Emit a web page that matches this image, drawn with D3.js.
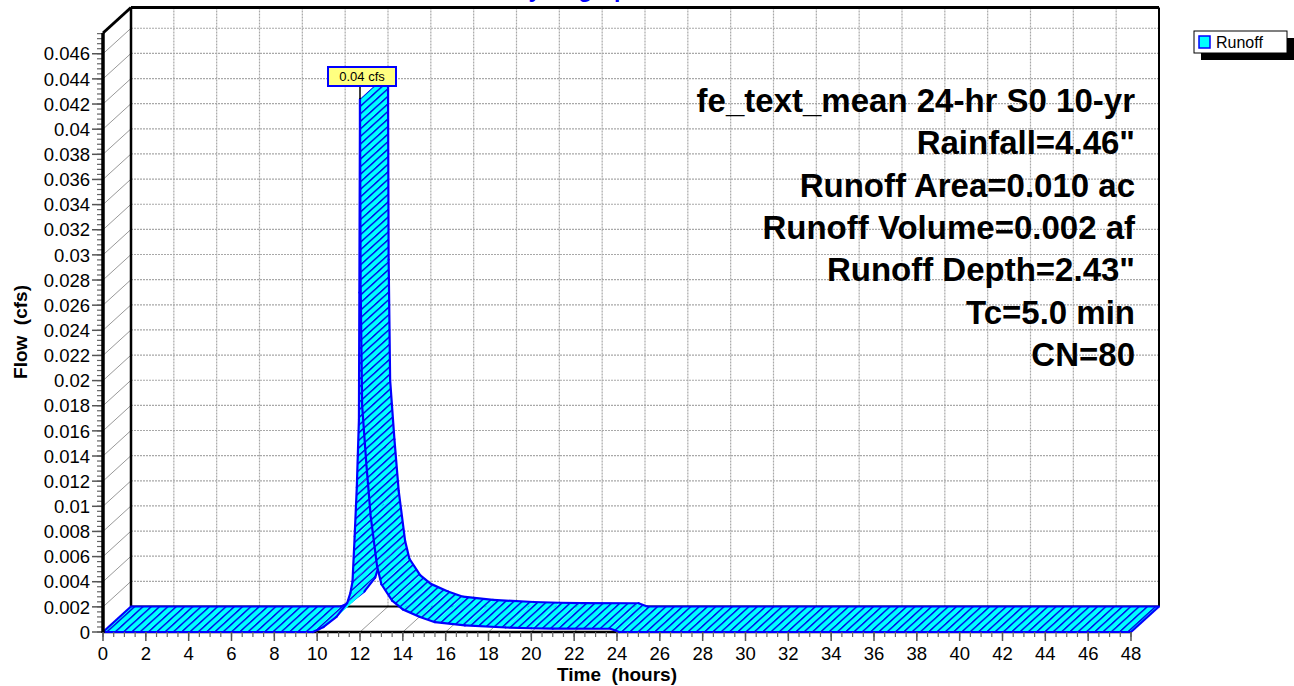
<!DOCTYPE html>
<html>
<head>
<meta charset="utf-8">
<script src="https://cdn.jsdelivr.net/npm/d3@7"></script>
<style>
  html, body { margin: 0; padding: 0; background: #ffffff; }
  svg { display: block; font-family: "Liberation Sans", Arial, sans-serif; }
</style>
</head>
<body>
<svg id="chart" width="1294" height="686"></svg>
<script>
// Runoff hydrograph (time in hours, flow in cfs)
const timeHours = [0, 9.8, 10.3, 10.9, 11.4, 11.55, 11.65, 11.75, 11.85, 11.95, 11.97, 12.0,
                   12.03, 12.1, 12.3, 12.5, 12.8, 13.0, 13.5, 14.0, 14.8, 15.5, 16.9, 18.8,
                   20.0, 21.0, 23.7, 24.1, 48];
const flowCfs   = [0, 0, 0.0004, 0.0012, 0.0023, 0.0031, 0.0040, 0.0076, 0.0115, 0.0169, 0.027, 0.0424,
                   0.0276, 0.0180, 0.0133, 0.0092, 0.0052, 0.0038, 0.0025, 0.0018, 0.0012, 0.00078, 0.00052, 0.00036,
                   0.00030, 0.00027, 0.00026, 0, 0];

const seriesName = "Runoff";
const peakLabel = "0.04 cfs";
const chartTitle = "Hydrograph";
const xAxisTitle = "Time  (hours)";
const yAxisTitle = "Flow  (cfs)";

const yTickValues = [0, 0.002, 0.004, 0.006, 0.008, 0.01, 0.012, 0.014, 0.016, 0.018, 0.02, 0.022,
                     0.024, 0.026, 0.028, 0.03, 0.032, 0.034, 0.036, 0.038, 0.04, 0.042, 0.044, 0.046];
const yTickLabels = ["0", "0.002", "0.004", "0.006", "0.008", "0.01", "0.012", "0.014", "0.016", "0.018", "0.02", "0.022",
                     "0.024", "0.026", "0.028", "0.03", "0.032", "0.034", "0.036", "0.038", "0.04", "0.042", "0.044", "0.046"];
const xTickValues = [0, 2, 4, 6, 8, 10, 12, 14, 16, 18, 20, 22, 24, 26, 28, 30, 32, 34, 36, 38, 40, 42, 44, 46, 48];
const xTickLabels = ["0", "2", "4", "6", "8", "10", "12", "14", "16", "18", "20", "22", "24", "26", "28", "30",
                     "32", "34", "36", "38", "40", "42", "44", "46", "48"];

const infoLines = [
  "fe_text_mean 24-hr S0 10-yr",
  "Rainfall=4.46\"",
  "Runoff Area=0.010 ac",
  "Runoff Volume=0.002 af",
  "Runoff Depth=2.43\"",
  "Tc=5.0 min",
  "CN=80"
];

// ---- layout ----
const xMax = 48, yMax = 0.04765;
const x = d3.scaleLinear().domain([0, xMax]).range([103, 1131]);
const y = d3.scaleLinear().domain([0, yMax]).range([632, 33]);
const DX = 28, DY = -25.5;   // depth offset of the back wall

const svg = d3.select("#chart");
const defs = svg.append("defs");

// diagonal hatch running along the depth direction
const pat = defs.append("pattern")
  .attr("id", "hatch")
  .attr("patternUnits", "userSpaceOnUse")
  .attr("width", 8.3).attr("height", 10)
  .attr("patternTransform", "skewX(" + (Math.atan(DX / DY) * 180 / Math.PI) + ")");
pat.append("rect").attr("width", 8.3).attr("height", 10).attr("fill", "#00ffff");
pat.append("line").attr("x1", 4).attr("y1", -1).attr("x2", 4).attr("y2", 11)
  .attr("stroke", "#0000e6").attr("stroke-width", 2.1);

const gridColor = "#a8a8a8";
const x0 = x(0), x1 = x(xMax), yb = y(0), yt = y(yMax);

// back wall grid
const grid = svg.append("g");
grid.selectAll(".hg").data(yTickValues.filter(v => v > 0)).join("line")
  .attr("x1", x0 + DX).attr("x2", x1 + DX)
  .attr("y1", d => y(d) + DY).attr("y2", d => y(d) + DY)
  .attr("stroke", gridColor).attr("stroke-width", 1.2).attr("stroke-dasharray", "2,1");
grid.selectAll(".vg").data(xTickValues.filter(v => v > 0 && v < xMax)).join("line")
  .attr("x1", d => x(d) + DX).attr("x2", d => x(d) + DX)
  .attr("y1", yt + DY).attr("y2", yb + DY)
  .attr("stroke", gridColor).attr("stroke-width", 1.2).attr("stroke-dasharray", "2,1");
// left wall
grid.selectAll(".wg").data(yTickValues.filter(v => v > 0)).join("line")
  .attr("x1", x0).attr("x2", x0 + DX)
  .attr("y1", d => y(d)).attr("y2", d => y(d) + DY)
  .attr("stroke", "#999").attr("stroke-width", 1);
// floor
grid.selectAll(".fg").data(xTickValues.filter(v => v > 0 && v < xMax)).join("line")
  .attr("x1", d => x(d)).attr("x2", d => x(d) + DX)
  .attr("y1", yb).attr("y2", yb + DY)
  .attr("stroke", "#999").attr("stroke-width", 1);

// frame of the box
const frame = svg.append("g").attr("stroke", "#000").attr("fill", "none");
frame.append("line").attr("x1", x0 + DX).attr("x2", x1 + DX).attr("y1", yt + DY).attr("y2", yt + DY).attr("stroke-width", 3);
frame.append("line").attr("x1", x0 + DX).attr("x2", x0 + DX).attr("y1", yt + DY).attr("y2", yb + DY).attr("stroke-width", 2.5);
frame.append("line").attr("x1", x1 + DX).attr("x2", x1 + DX).attr("y1", yt + DY).attr("y2", yb + DY).attr("stroke-width", 2);
frame.append("line").attr("x1", x0 + DX).attr("x2", x1 + DX).attr("y1", yb + DY).attr("y2", yb + DY).attr("stroke-width", 2);
frame.append("line").attr("x1", x0).attr("x2", x0 + DX).attr("y1", yt).attr("y2", yt + DY).attr("stroke-width", 3);
frame.append("line").attr("x1", x0).attr("x2", x1).attr("y1", yb).attr("y2", yb).attr("stroke-width", 2.5);

// ---- 3D ribbon ----
const pts = timeHours.map((t, i) => ({ t: t, v: flowCfs[i] }));
const front = d => [x(d.t), y(d.v)];
const back = d => [x(d.t) + DX, y(d.v) + DY];
const ribbon = svg.append("g");
for (let i = 0; i < pts.length - 1; i++) {
  const a = pts[i], b = pts[i + 1];
  const quad = [front(a), front(b), back(b), back(a)];
  ribbon.append("path")
    .attr("d", d3.line()(quad) + "Z")
    .attr("fill", "url(#hatch)").attr("stroke", "none");
  ribbon.append("path").attr("d", d3.line()([front(a), front(b)]))
    .attr("stroke", "#0000ff").attr("stroke-width", 2.2).attr("fill", "none").attr("stroke-linecap", "round");
  ribbon.append("path").attr("d", d3.line()([back(a), back(b)]))
    .attr("stroke", "#0000ff").attr("stroke-width", 2.2).attr("fill", "none").attr("stroke-linecap", "round");
}
ribbon.append("path").attr("d", d3.line()([front(pts[0]), back(pts[0])]))
  .attr("stroke", "#0000ff").attr("stroke-width", 2.2);
ribbon.append("path").attr("d", d3.line()([front(pts[pts.length - 1]), back(pts[pts.length - 1])]))
  .attr("stroke", "#0000ff").attr("stroke-width", 2.2);

// ---- axes ----
const axisG = svg.append("g");
// y axis
axisG.selectAll(".ymin").data(d3.range(0, yMax, 0.0004)).join("line")
  .attr("x1", x0 - 6).attr("x2", x0).attr("y1", d => y(d)).attr("y2", d => y(d))
  .attr("stroke", "#666").attr("stroke-width", 1.2);
axisG.selectAll(".ymaj").data(yTickValues).join("line")
  .attr("x1", x0 - 11).attr("x2", x0).attr("y1", d => y(d)).attr("y2", d => y(d))
  .attr("stroke", "#555").attr("stroke-width", 1.5);
axisG.selectAll(".ylab").data(yTickValues).join("text")
  .attr("x", x0 - 13).attr("y", d => y(d)).attr("dy", "0.36em")
  .attr("text-anchor", "end").attr("font-size", 18.5).attr("fill", "#000")
  .text((d, i) => yTickLabels[i]);
axisG.append("line").attr("x1", x0).attr("x2", x0).attr("y1", yt).attr("y2", yb + 1)
  .attr("stroke", "#000").attr("stroke-width", 3.5);
// x axis
axisG.selectAll(".xmin").data(d3.range(0, xMax + 0.01, 0.5)).join("line")
  .attr("x1", d => x(d)).attr("x2", d => x(d)).attr("y1", yb).attr("y2", yb + 5)
  .attr("stroke", "#666").attr("stroke-width", 1.2);
axisG.selectAll(".xmaj").data(xTickValues).join("line")
  .attr("x1", d => x(d)).attr("x2", d => x(d)).attr("y1", yb).attr("y2", yb + 9)
  .attr("stroke", "#555").attr("stroke-width", 1.5);
axisG.selectAll(".xlab").data(xTickValues).join("text")
  .attr("x", d => x(d)).attr("y", 660)
  .attr("text-anchor", "middle").attr("font-size", 18.5).attr("fill", "#000")
  .text((d, i) => xTickLabels[i]);

// axis titles
svg.append("text").attr("x", 617).attr("y", 681).attr("text-anchor", "middle")
  .attr("font-size", 19).attr("font-weight", "bold").style("white-space", "pre").text(xAxisTitle);
svg.append("text").attr("transform", "translate(27,332) rotate(-90)").attr("text-anchor", "middle")
  .attr("font-size", 19).attr("font-weight", "bold").style("white-space", "pre").text(yAxisTitle);

// chart title (runs off the top edge)
svg.append("text").attr("x", 577).attr("y", -3).attr("text-anchor", "middle")
  .attr("font-size", 23).attr("font-weight", "bold").attr("fill", "#0000ff").text(chartTitle);

// info block
svg.append("g").selectAll("text").data(infoLines).join("text")
  .attr("x", 1135).attr("y", (d, i) => 112 + i * 42.3)
  .attr("text-anchor", "end").attr("font-size", 33).attr("font-weight", "bold").attr("fill", "#000")
  .text(d => d);

// peak label
const peakIdx = d3.maxIndex(flowCfs);
const px = x(timeHours[peakIdx]), py = y(flowCfs[peakIdx]);
svg.append("line").attr("x1", px).attr("x2", px).attr("y1", py).attr("y2", py - 13)
  .attr("stroke", "#000").attr("stroke-width", 1.5);
svg.append("rect").attr("x", px - 32).attr("y", py - 32).attr("width", 68).attr("height", 19)
  .attr("fill", "#ffff80").attr("stroke", "#0000ff").attr("stroke-width", 2);
svg.append("text").attr("x", px + 2).attr("y", py - 18).attr("text-anchor", "middle")
  .attr("font-size", 13).attr("fill", "#000").text(peakLabel);

// legend
const lg = svg.append("g").attr("transform", "translate(1194,31)");
lg.append("rect").attr("x", 7).attr("y", 7).attr("width", 93).attr("height", 22).attr("fill", "#000");
lg.append("rect").attr("x", 0).attr("y", 0).attr("width", 93).attr("height", 22)
  .attr("fill", "#fff").attr("stroke", "#000").attr("stroke-width", 1);
lg.append("rect").attr("x", 5).attr("y", 5).attr("width", 11).attr("height", 12)
  .attr("fill", "#00ffff").attr("stroke", "#0000ff").attr("stroke-width", 1.5);
lg.append("text").attr("x", 22).attr("y", 16.5).attr("font-size", 16).attr("fill", "#000").text(seriesName);
</script>
</body>
</html>
